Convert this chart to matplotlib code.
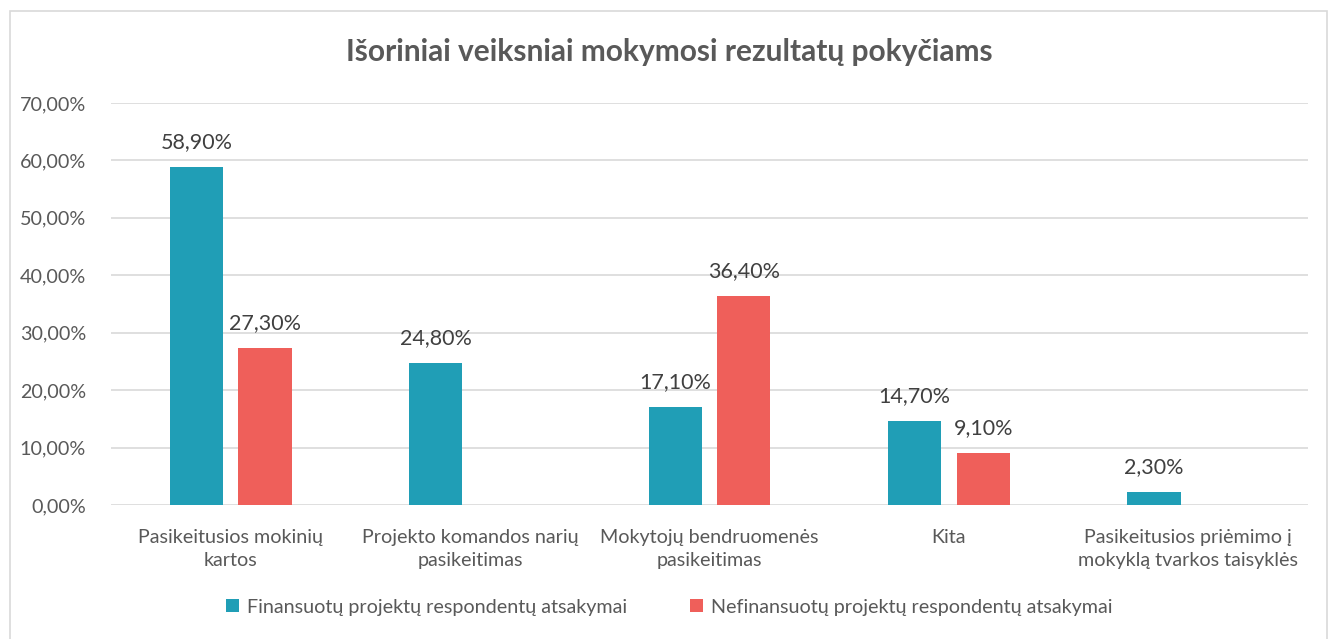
import numpy as np
import matplotlib.pyplot as plt
from matplotlib.patches import Rectangle

categories = [
    "Pasikeitusios mokinių\nkartos",
    "Projekto komandos narių\npasikeitimas",
    "Mokytojų bendruomenės\npasikeitimas",
    "Kita",
    "Pasikeitusios priėmimo į\nmokyklą tvarkos taisyklės",
]
funded = [58.9, 24.8, 17.1, 14.7, 2.3]
unfunded = [27.3, None, 36.4, 9.1, None]
yticks = [0, 10, 20, 30, 40, 50, 60, 70]

TEAL = "#209eb6"
RED = "#ef5f5a"
GREY = "#595959"

plt.rcParams['font.family'] = ['Lato', 'DejaVu Sans']

fig = plt.figure(figsize=(13.38, 6.39), dpi=100)
ax = fig.add_axes([111 / 1338, 1 - 505 / 639, (1308 - 111) / 1338, (505 - 103) / 639])

# light border around the chart
fig.patches.append(Rectangle((10 / 1338, -0.01), 1327 / 1338 - 10 / 1338, 1 - 11 / 639 + 0.01,
                             transform=fig.transFigure, fill=False, edgecolor="#d9d9d9", lw=1.2))

x = np.arange(len(categories))
w = 0.222
off = 0.143

for i, v in enumerate(funded):
    ax.bar(x[i] - off, v, w, color=TEAL, zorder=3,
           label="Finansuotų projektų respondentų atsakymai" if i == 0 else None)
    ax.text(x[i] - off, v + 2.6, f"{v:.2f}%".replace(".", ","), ha="center", va="bottom",
            fontsize=15.5, color="#404040")
for i, v in enumerate(unfunded):
    if v is None:
        continue
    ax.bar(x[i] + off, v, w, color=RED, zorder=3,
           label="Nefinansuotų projektų respondentų atsakymai" if i == 0 else None)
    ax.text(x[i] + off, v + 2.6, f"{v:.2f}%".replace(".", ","), ha="center", va="bottom",
            fontsize=15.5, color="#404040")

ax.set_xlim(-0.5, len(categories) - 0.5)
ax.set_ylim(0, 70)
ax.set_yticks(yticks)
ax.set_yticklabels([f"{t:.2f}%".replace(".", ",") for t in yticks])
ax.set_xticks(x)
ax.set_xticklabels(categories, linespacing=1.45)
ax.grid(axis="y", color="#d9d9d9", lw=1.2, zorder=0)
for s in ax.spines.values():
    s.set_visible(False)
ax.tick_params(axis="both", length=0, labelsize=14.2, colors=GREY)
ax.tick_params(axis="x", pad=17)
ax.tick_params(axis="y", pad=18)

fig.text(0.5, 1 - 52 / 639, "Išoriniai veiksniai mokymosi rezultatų pokyčiams", ha="center",
         va="center", fontsize=21.5, fontweight="bold", color=GREY)

fig.legend(loc="center", bbox_to_anchor=(0.5, 1 - 607 / 639), ncol=2, frameon=False,
           fontsize=14.2, labelcolor=GREY, handlelength=0.65, handleheight=0.65,
           handletextpad=0.4, columnspacing=3.2)

fig.savefig("out.png", dpi=100, facecolor="white")
